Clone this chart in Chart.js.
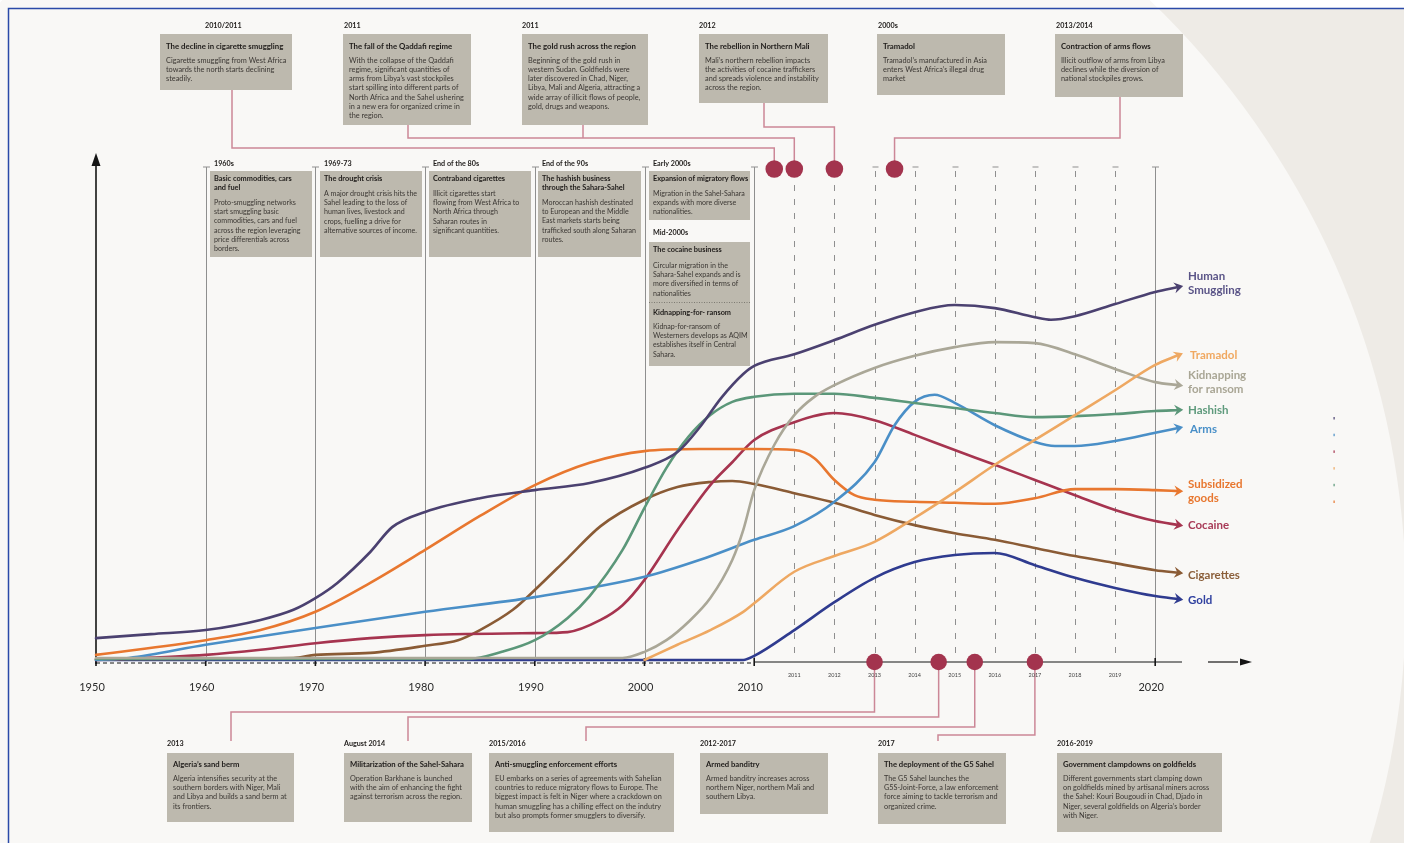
<!DOCTYPE html>
<html><head><meta charset="utf-8">
<script src="https://cdn.jsdelivr.net/npm/chart.js@4/dist/chart.umd.min.js"></script>
<style>html,body{margin:0;padding:0;background:#fff;overflow:hidden}canvas{display:block}</style>
</head><body>
<canvas id="c" width="1404" height="843"></canvas>
<script>
// ---------------- DATA ----------------
const seriesNames = ['Human Smuggling','Tramadol','Kidnapping for ransom','Hashish','Arms','Subsidized goods','Cocaine','Cigarettes','Gold'];
const legendLines = [['Human','Smuggling'],['Tramadol'],['Kidnapping','for ransom'],['Hashish'],['Arms'],['Subsidized','goods'],['Cocaine'],['Cigarettes'],['Gold']];

const humanYears = [1950,1955,1960,1965,1968,1970,1972,1975,1977,1980,1985,1990,1995,2000,2003,2005,2007,2009,2010,2011,2012,2013,2014,2015,2016,2017,2017.4,2018,2019,2020,2020.6];
const humanVals  = [4.7,5.5,6.3,8.3,10.3,12.6,15.6,21.7,26.6,29.6,32.3,33.9,35.3,38.3,41.4,46.2,52.1,56.8,58.4,60.7,63.5,66.5,69.0,70.4,69.8,68.0,67.5,68.2,70.6,73.0,74.0];

const tramYears = [2000,2003,2006,2009,2010,2011,2012,2013,2014,2015,2016,2017,2018,2019,2020,2020.6];
const tramVals  = [0.4,3.4,6.3,9.9,11.6,17.8,20.9,23.7,28.4,33.5,38.9,43.8,48.7,53.6,58.6,60.6];

const kidYears = [1950,1998,2000,2002,2004,2006,2008,2009,2010,2010.5,2011,2011.5,2012,2013,2014,2015,2016,2017,2018,2019,2020,2020.6];
const kidVals  = [0.8,0.8,2.0,4.3,7.9,12.6,20.1,26.0,33.9,42.8,48.7,52.3,54.6,58.0,60.4,62.1,63.1,62.9,60.7,57.8,55.2,54.6];

const hashYears = [1950,1984,1987,1990,1993,1995,1998,2000,2002,2004,2006,2008,2010,2011,2012,2013,2014,2015,2016,2017,2018,2019,2020,2020.6];
const hashVals  = [0.6,0.6,2.0,4.3,8.7,13.0,22.1,30.4,38.3,44.4,48.7,51.3,52.3,52.9,52.9,52.1,51.1,50.1,49.1,48.3,48.5,48.9,49.5,49.7];

const armsYears = [1950,1953,1960,1970,1980,1990,2000,2005,2010,2011,2012,2013,2013.5,2014,2014.5,2015,2016,2017,2017.5,2018,2019,2020,2020.6];
const armsVals  = [0.4,0.8,3.4,6.7,9.9,12.8,16.8,20.1,24.1,26.8,31.6,39.4,46.7,51.3,52.7,51.1,46.7,43.4,42.6,42.6,43.6,45.2,46.2];

const subsYears = [1950,1960,1965,1970,1975,1980,1985,1990,1995,2000,2005,2010,2011,2011.5,2012,2012.5,2013,2014,2015,2016,2017,2018,2019,2020,2020.6];
const subsVals  = [1.4,4.3,6.3,9.9,15.6,22.1,28.8,34.9,39.3,41.6,42.0,42.0,41.8,40.2,35.9,32.9,32.0,31.6,31.4,31.2,32.3,34.1,34.1,33.9,33.7];

const cocYears = [1950,1960,1965,1970,1975,1980,1990,1993,1996,1998,2000,2003,2006,2008,2010,2011,2012,2013,2014,2015,2016,2017,2018,2019,2020,2020.6];
const cocVals  = [0.4,1.4,2.4,3.7,4.7,5.3,5.7,5.9,8.3,11.2,16.2,26.0,34.9,39.4,43.8,47.3,49.1,47.7,44.8,41.8,38.9,35.9,32.9,30.0,27.8,27.0];

const cigYears = [1950,1968,1970,1975,1980,1983,1985,1988,1990,1993,1996,2000,2003,2006,2008,2010,2011,2012,2013,2014,2015,2016,2017,2018,2019,2020,2020.6];
const cigVals  = [0.6,0.8,1.4,1.8,3.2,4.3,6.3,10.3,14.2,20.5,26.8,32.0,34.5,35.5,35.7,35.1,33.3,31.4,29.0,27.0,25.4,24.1,22.5,20.9,19.5,18.1,17.6];

const goldYears = [1950,2009,2010,2011,2012,2013,2014,2015,2016,2017,2018,2019,2020,2020.6];
const goldVals  = [0.4,0.4,1.2,6.3,11.8,16.6,19.7,21.1,21.5,19.1,16.6,14.6,13.0,12.4];

const decadeTicks = [1950,1960,1970,1980,1990,2000,2010,2020];
const yearTicks = [2011,2012,2013,2014,2015,2016,2017,2018,2019];
const topDotYears = [2010.5,2011,2012,2013.5];
const bottomDotYears = [2013,2014.6,2015.5,2017];

// event texts
const topDates  = ['2010/2011','2011','2011','2012','2000s','2013/2014'];
const topTitles = [['The decline in cigarette smuggling'],['The fall of the Qaddafi regime'],['The gold rush across the region'],['The rebellion in Northern Mali'],['Tramadol'],['Contraction of arms flows']];
const topBodies = [
 ['Cigarette smuggling from West Africa','towards the north starts declining','steadily.'],
 ['With the collapse of the Qaddafi','regime, significant quantities of','arms from Libya\u2019s vast stockpiles','start spilling into different parts of','North Africa and the Sahel ushering','in a new era for organized crime in','the region.'],
 ['Beginning of the gold rush in','western Sudan. Goldfields were','later discovered in Chad, Niger,','Libya, Mali and Algeria, attracting a','wide array of illicit flows of people,','gold, drugs and weapons.'],
 ['Mali\u2019s northern rebellion impacts','the activities of cocaine traffickers','and spreads violence and instability','across the region.'],
 ['Tramadol\u2019s manufactured in Asia','enters West Africa\u2019s illegal drug','market'],
 ['Illicit outflow of arms from Libya','declines while the diversion of','national stockpiles grows.']
];
const midDates  = ['1960s','1969-73','End of the 80s','End of the 90s','Early 2000s'];
const midTitles = [['Basic commodities, cars','and fuel'],['The drought crisis'],['Contraband cigarettes'],['The hashish business','through the Sahara-Sahel'],['Expansion of migratory flows']];
const midBodies = [
 ['Proto-smuggling networks','start smuggling basic','commodities, cars and fuel','across the region leveraging','price differentials across','borders.'],
 ['A major drought crisis hits the','Sahel leading to the loss of','human lives, livestock and','crops, fuelling a drive for','alternative sources of income.'],
 ['Illicit cigarettes start','flowing from West Africa to','North Africa through','Saharan routes in','significant quantities.'],
 ['Moroccan hashish destinated','to European and the Middle','East markets starts being','trafficked south along Saharan','routes.'],
 ['Migration in the Sahel-Sahara','expands with more diverse','nationalities.']
];
const mid2000sDate = 'Mid-2000s';
const mid2000sTitles = ['The cocaine business','Kidnapping-for- ransom'];
const mid2000sBodies = [
 ['Circular migration in the','Sahara-Sahel expands and is','more diversified in terms of','nationalities'],
 ['Kidnap-for-ransom of','Westerners develops as AQIM','establishes itself in Central','Sahara.']
];
const botDates  = ['2013','August 2014','2015/2016','2012-2017','2017','2016-2019'];
const botTitles = [['Algeria\u2019s sand berm'],['Militarization of the Sahel-Sahara'],['Anti-smuggling enforcement efforts'],['Armed banditry'],['The deployment of the G5 Sahel'],['Government clampdowns on goldfields']];
const botBodies = [
 ['Algeria intensifies security at the','southern borders with Niger, Mali','and Libya and builds a sand berm at','its frontiers.'],
 ['Operation Barkhane is launched','with the aim of enhancing the fight','against terrorism across the region.'],
 ['EU embarks on a series of agreements with Sahelian','countries to reduce migratory flows to Europe. The','biggest impact is felt in Niger where a crackdown on','human smuggling has a chilling effect on the indutry','but also prompts former smugglers to diversify.'],
 ['Armed banditry increases across','northern Niger, northern Mali and','southern Libya.'],
 ['The G5 Sahel launches the','G5S-Joint-Force, a law enforcement','force aiming to tackle terrorism and','organized crime.'],
 ['Different governments start clamping down','on goldfields mined by artisanal miners across','the Sahel: Kouri Bougoudi in Chad, Djado in','Niger, several goldfields on Algeria\u2019s border','with Niger.']
];

// ---------------- LAYOUT / STYLE ----------------
const PX_PER_YEAR_EARLY = 10.97, PX_PER_YEAR_LATE = 40.1;
function xPos(yr){ return yr <= 2010 ? (yr-1950)*PX_PER_YEAR_EARLY : 60*PX_PER_YEAR_EARLY + (yr-2010)*PX_PER_YEAR_LATE; }

const colors = ['#4b4170','#eea862','#aaa797','#5b9779','#4a8fc7','#e8772f','#a6344f','#8a5b35','#2f3b8f'];
const legendColors = ['#5a5487','#f0a860','#a9a695','#5e9a7c','#4a90c8','#e8772f','#a83a57','#8b5f3a','#3142a0'];
const legendY = [276,355,375.5,410.5,429,484.3,525.7,575,600];
const legendX = [1188,1190,1188,1188,1190,1188,1188,1188,1188];

const topBoxes = [[160,34,132,56,205],[343,34,128,91,344],[522,34,126,91,522],[699,34,129,69,699],[877,34,128,61,878],[1055,34,128,63,1056]];
const midBoxes = [[210,171,102,86],[320,171,102,86],[429,171,102,86],[538,171,103,86],[649,171,101,49]];
const botBoxes = [[167,753,127,69],[344,753,128,69],[489,753,185,79],[700,753,128,61],[878,753,128,71],[1057,753,165,79]];

const BOX_FILL = '#bdb9ae', TITLE_COL = '#1f1c1a', BODY_COL = '#3c3834', CONN = '#cc8797', DOT = '#a3344e', GRID = '#8f8f8f';

const seriesYears = [humanYears,tramYears,kidYears,hashYears,armsYears,subsYears,cocYears,cigYears,goldYears];
const seriesVals  = [humanVals,tramVals,kidVals,hashVals,armsVals,subsVals,cocVals,cigVals,goldVals];

const datasets = seriesNames.map((n,i)=>({
  label:n,
  data: seriesYears[i].map((yr,k)=>({x:xPos(yr), y:seriesVals[i][k]})),
  borderColor:colors[i], backgroundColor:colors[i], borderWidth:2.6,
  pointRadius:0, fill:false, cubicInterpolationMode:'monotone', clip:false,
  order: i
}));

function T(ctx, txt, x, y, font, color, align){
  ctx.font = font; ctx.fillStyle = color; ctx.textAlign = align||'left'; ctx.textBaseline='middle';
  ctx.fillText(txt, x, y);
}

const deco = {
  id:'deco',
  beforeDraw(chart){
    const ctx = chart.ctx, W = chart.width, H = chart.height;
    ctx.save();
    ctx.fillStyle = '#ffffff'; ctx.fillRect(0,0,W,H);
    ctx.fillStyle = '#eeebe6'; ctx.fillRect(8,8,W-8,H-8);
    ctx.beginPath(); ctx.arc(576,600,830,0,Math.PI*2); ctx.fillStyle='#f9f8f6'; ctx.fill();
    ctx.strokeStyle = '#2b4aa8'; ctx.lineWidth = 1.5;
    ctx.beginPath(); ctx.moveTo(8.5,H); ctx.lineTo(8.5,8.5); ctx.lineTo(W,8.5); ctx.stroke();
    ctx.restore();
  },
  beforeDatasetsDraw(chart){
    const ctx = chart.ctx, xs = chart.scales.x, ys = chart.scales.y;
    const X = yr => xs.getPixelForValue(xPos(yr));
    const base = ys.getPixelForValue(0);
    ctx.save();
    ctx.strokeStyle = GRID; ctx.lineWidth = 1;
    decadeTicks.slice(1).forEach(yr=>{
      const x = Math.round(X(yr))+0.5;
      ctx.setLineDash([]);
      ctx.beginPath(); ctx.moveTo(x,167); ctx.lineTo(x,base); ctx.stroke();
      ctx.beginPath(); ctx.moveTo(x-3.5,167); ctx.lineTo(x+3.5,167); ctx.stroke();
    });
    yearTicks.forEach(yr=>{
      const x = Math.round(X(yr))+0.5;
      ctx.setLineDash([]);
      ctx.beginPath(); ctx.moveTo(x-3,167); ctx.lineTo(x+3,167); ctx.stroke();
      ctx.setLineDash([6,8]);
      ctx.beginPath(); ctx.moveTo(x,171); ctx.lineTo(x,base-4); ctx.stroke();
    });
    ctx.setLineDash([]);
    const x0 = X(1950);
    ctx.strokeStyle = '#151515'; ctx.lineWidth = 1.6;
    ctx.beginPath(); ctx.moveTo(x0,base+2); ctx.lineTo(x0,163); ctx.stroke();
    ctx.fillStyle = '#151515';
    ctx.beginPath(); ctx.moveTo(x0-4.5,166); ctx.lineTo(x0+4.5,166); ctx.lineTo(x0,153); ctx.closePath(); ctx.fill();
    ctx.lineWidth = 1.2;
    ctx.setLineDash([4,3]);
    ctx.beginPath(); ctx.moveTo(x0,base+1); ctx.lineTo(X(2010),base+1); ctx.stroke();
    ctx.setLineDash([]);
    ctx.beginPath(); ctx.moveTo(X(2010),base); ctx.lineTo(1182,base); ctx.stroke();
    ctx.beginPath(); ctx.moveTo(1208,base); ctx.lineTo(1238,base); ctx.stroke();
    ctx.beginPath(); ctx.moveTo(1240,base-3.5); ctx.lineTo(1240,base+3.5); ctx.lineTo(1252,base); ctx.closePath(); ctx.fill();
    ctx.lineWidth = 1.6;
    decadeTicks.forEach(yr=>{
      const x = X(yr);
      ctx.beginPath(); ctx.moveTo(x,base-4); ctx.lineTo(x,base+4); ctx.stroke();
    });
    ctx.restore();
  },
  afterDatasetsDraw(chart){
    const ctx = chart.ctx, xs = chart.scales.x, ys = chart.scales.y;
    const X = yr => xs.getPixelForValue(xPos(yr));
    const base = ys.getPixelForValue(0);
    ctx.save();
    chart.data.datasets.forEach((ds,i)=>{
      const meta = chart.getDatasetMeta(i);
      const pts = meta.data, n = pts.length;
      const a = pts[n-2], b = pts[n-1];
      let dx = b.x-a.x, dy = b.y-a.y; const L = Math.hypot(dx,dy); dx/=L; dy/=L;
      const px = -dy, py = dx;
      const tx = b.x+dx*4, ty = b.y+dy*4;
      ctx.fillStyle = ds.borderColor;
      ctx.beginPath();
      ctx.moveTo(tx,ty);
      ctx.lineTo(tx-dx*9+px*5.5, ty-dy*9+py*5.5);
      ctx.lineTo(tx-dx*6, ty-dy*6);
      ctx.lineTo(tx-dx*9-px*5.5, ty-dy*9-py*5.5);
      ctx.closePath(); ctx.fill();
    });
    ctx.strokeStyle = CONN; ctx.lineWidth = 1.5; ctx.lineJoin='miter';
    const tdY = 169;
    const poly = pts => { ctx.beginPath(); ctx.moveTo(pts[0][0],pts[0][1]); for(let k=1;k<pts.length;k++) ctx.lineTo(pts[k][0],pts[k][1]); ctx.stroke(); };
    poly([[232,90],[232,148],[X(topDotYears[0]),148],[X(topDotYears[0]),tdY]]);
    poly([[408,125],[408,138],[X(topDotYears[1]),138],[X(topDotYears[1]),tdY]]);
    poly([[583,125],[583,138]]);
    poly([[764,103],[764,127],[X(topDotYears[2]),127],[X(topDotYears[2]),tdY]]);
    poly([[1120,97],[1120,138],[X(topDotYears[3]),138],[X(topDotYears[3]),tdY]]);
    poly([[X(bottomDotYears[0]),base],[X(bottomDotYears[0]),712],[231,712],[231,741]]);
    poly([[X(bottomDotYears[1]),base],[X(bottomDotYears[1]),717],[408,717],[408,741]]);
    poly([[X(bottomDotYears[2]),base],[X(bottomDotYears[2]),727],[586,727],[586,741]]);
    poly([[X(bottomDotYears[3]),base],[X(bottomDotYears[3]),735],[938,735],[938,741]]);
    ctx.fillStyle = DOT;
    topDotYears.forEach(yr=>{ ctx.beginPath(); ctx.arc(X(yr),tdY,8.8,0,Math.PI*2); ctx.fill(); });
    bottomDotYears.forEach(yr=>{ ctx.beginPath(); ctx.arc(X(yr),base,8.3,0,Math.PI*2); ctx.fill(); });

    const drawBox = (b, date, dateX, dateY, titles, bodies, titleOff, gap, inset, tf, bf) => {
      ctx.fillStyle = BOX_FILL; ctx.fillRect(b[0],b[1],b[2],b[3]);
      T(ctx, date, dateX, dateY, 'bold 7.2px Lato', TITLE_COL);
      let y = b[1]+titleOff;
      titles.forEach((t,k)=>{ T(ctx, t, b[0]+inset, y, 'bold '+tf+'px Lato', TITLE_COL); if(k<titles.length-1) y+=9; });
      y += gap;
      bodies.forEach(t=>{ T(ctx, t, b[0]+inset, y, bf+'px Lato', BODY_COL); y+=9.2; });
    };
    topBoxes.forEach((b,i)=> drawBox(b, topDates[i], b[4], 25.5, topTitles[i], topBodies[i], 12.4, 14, 6, 7.8, 7.35));
    midBoxes.forEach((b,i)=> drawBox(b, midDates[i], b[0]+4, 164, midTitles[i], midBodies[i], 7.5, 15.2, 4, 7.35, 7.1));
    botBoxes.forEach((b,i)=> drawBox(b, botDates[i], b[0], 743.5, botTitles[i], botBodies[i], 11.7, 14, 6, 7.7, 7.3));
    ctx.fillStyle = BOX_FILL; ctx.fillRect(649,242,101,124);
    T(ctx, mid2000sDate, 653, 233, 'bold 7.2px Lato', TITLE_COL);
    T(ctx, mid2000sTitles[0], 653, 250, 'bold 7.35px Lato', TITLE_COL);
    mid2000sBodies[0].forEach((t,k)=> T(ctx, t, 653, 265.7+k*9.2, '7.1px Lato', BODY_COL));
    ctx.strokeStyle = '#7d7a72'; ctx.lineWidth = 1; ctx.setLineDash([1,1.5]);
    ctx.beginPath(); ctx.moveTo(649,302.5); ctx.lineTo(750,302.5); ctx.stroke(); ctx.setLineDash([]);
    T(ctx, mid2000sTitles[1], 653, 312.3, 'bold 7.35px Lato', TITLE_COL);
    mid2000sBodies[1].forEach((t,k)=> T(ctx, t, 653, 326.7+k*9.2, '7.1px Lato', BODY_COL));

    decadeTicks.forEach(yr=> T(ctx, String(yr), X(yr)-4, 687.5, '11px Lato', '#2b2b2b', 'center'));
    yearTicks.forEach(yr=> T(ctx, String(yr), X(yr), 675, '5.5px Lato', '#444', 'center'));

    legendLines.forEach((lines,i)=> lines.forEach((t,k)=> T(ctx, t, legendX[i], legendY[i]+k*14, 'bold 11.5px Lato', legendColors[i])));
    [0,4,6,1,3,5].forEach((ci,k)=>{ ctx.fillStyle = colors[ci]; ctx.fillRect(1333.5,417+k*16.7,1.2,2.5); });
    ctx.restore();
  }
};

new Chart(document.getElementById('c'), {
  type:'line',
  data:{ datasets },
  options:{
    responsive:false, animation:false, devicePixelRatio:1,
    layout:{ padding:{ left:96, right:152, top:155, bottom:181 } },
    scales:{
      x:{ type:'linear', min:0, max:1156, display:false },
      y:{ type:'linear', min:0, max:100, display:false }
    },
    plugins:{ legend:{display:false}, tooltip:{enabled:false} },
    elements:{ line:{ borderCapStyle:'round', borderJoinStyle:'round' } }
  },
  plugins:[deco]
});
</script>
</body></html>
